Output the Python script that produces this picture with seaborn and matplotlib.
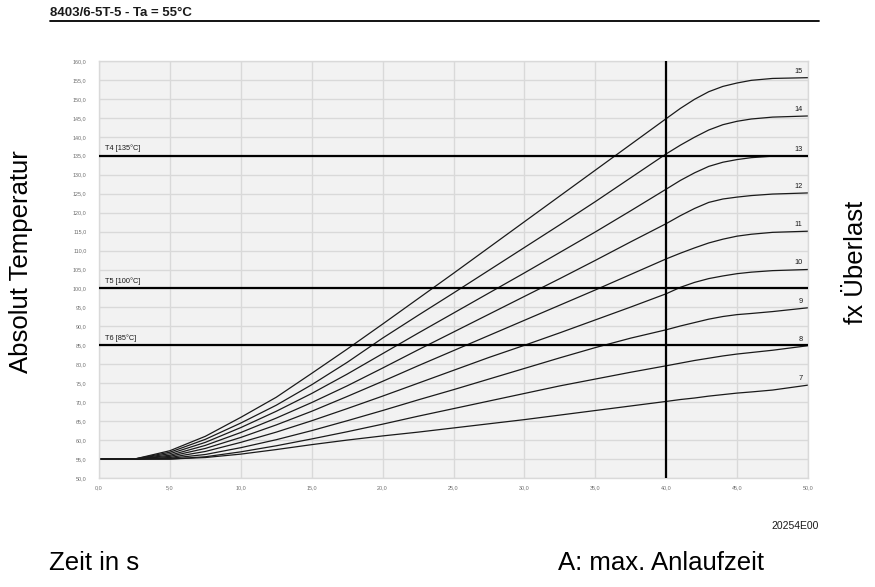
import matplotlib
matplotlib.use("Agg")
import matplotlib.pyplot as plt
import seaborn as sns
import pandas as pd
from matplotlib.lines import Line2D
from matplotlib.ticker import FuncFormatter, MultipleLocator

# ---- data ----
time_s = [0, 2.5, 5, 7.5, 10, 12.5, 15, 17.5, 20, 22.5, 25, 27.5, 30, 32.5, 35, 37.5,
          40, 41, 42, 43, 44, 45, 46, 47.5, 50]

curve_15 = [55, 55, 57.2, 61.0, 66.0, 71.3, 77.6, 84.0, 90.6, 97.3, 104.0, 110.8, 117.6, 124.4, 131.2, 138.0,
            144.8, 147.5, 149.9, 151.9, 153.3, 154.2, 154.9, 155.4, 155.6]
curve_14 = [55, 55, 56.8, 60.2, 64.5, 69.2, 74.6, 80.5, 86.9, 92.9, 98.8, 104.8, 110.8, 116.8, 122.9, 129.2,
            135.5, 137.8, 139.9, 141.8, 143.2, 144.1, 144.7, 145.2, 145.5]
curve_13 = [55, 55, 56.4, 59.4, 63.3, 67.6, 72.3, 77.4, 82.8, 88.2, 93.5, 98.8, 104.1, 109.5, 114.9, 120.5,
            126.2, 128.5, 130.5, 132.2, 133.3, 134.0, 134.5, 134.9, 135.0]
curve_12 = [55, 55, 56.0, 58.6, 62.0, 65.8, 69.9, 74.3, 79.0, 83.8, 88.5, 93.2, 97.9, 102.6, 107.4, 112.3,
            117.1, 119.2, 121.1, 122.7, 123.6, 124.1, 124.5, 124.9, 125.2]
curve_11 = [55, 55, 55.7, 57.8, 60.7, 64.0, 67.6, 71.5, 75.5, 79.6, 83.6, 87.6, 91.6, 95.6, 99.6, 103.7,
            107.8, 109.3, 110.7, 112.0, 113.0, 113.8, 114.3, 114.8, 115.1]
curve_10 = [55, 55, 55.4, 57.0, 59.4, 62.1, 65.1, 68.3, 71.6, 75.0, 78.4, 81.8, 85.0, 88.3, 91.7, 95.1,
            98.6, 100.3, 101.6, 102.6, 103.3, 103.9, 104.3, 104.7, 105.0]
curve_9 = [55, 55, 55.2, 56.2, 58.0, 60.1, 62.5, 65.1, 67.8, 70.6, 73.3, 76.1, 78.9, 81.7, 84.4, 86.9,
           89.1, 90.1, 91.0, 91.9, 92.6, 93.1, 93.4, 93.9, 94.9]
curve_8 = [55, 55, 55.0, 55.6, 56.9, 58.5, 60.3, 62.2, 64.2, 66.3, 68.3, 70.3, 72.3, 74.3, 76.1, 77.9,
           79.6, 80.3, 81.0, 81.6, 82.2, 82.7, 83.1, 83.7, 84.9]
curve_7 = [55, 55, 55.0, 55.4, 56.3, 57.5, 58.8, 60.0, 61.1, 62.1, 63.2, 64.3, 65.4, 66.6, 67.8, 69.0,
           70.2, 70.7, 71.1, 71.6, 72.0, 72.4, 72.7, 73.2, 74.5]

curve_names = ["7", "8", "9", "10", "11", "12", "13", "14", "15"]
curves = [curve_7, curve_8, curve_9, curve_10, curve_11, curve_12, curve_13, curve_14, curve_15]

limit_values = [135, 100, 85]
limit_labels = ["T4 [135°C]", "T5 [100°C]", "T6 [85°C]"]
max_start_time = 40

title_text = "8403/6-5T-5 - Ta = 55°C"
code_text = "20254E00"

# ---- long-form table ----
rows = []
for name, vals in zip(curve_names, curves):
    for t, v in zip(time_s, vals):
        rows.append({"t": t, "T": v, "curve": name})
df = pd.DataFrame(rows)

sns.set_theme(style="white")
plt.rcParams["font.family"] = ["Liberation Sans", "DejaVu Sans"]

fig = plt.figure(figsize=(8.75, 5.87), dpi=100)
ax = fig.add_axes([99 / 875, 1 - 478 / 587, 709 / 875, 417 / 587])
ax.set_facecolor("#f2f2f2")

grid_c = "#d9d9d9"
ax.set_xlim(0, 50)
ax.set_ylim(50, 160)
ax.xaxis.set_major_locator(MultipleLocator(5))
ax.yaxis.set_major_locator(MultipleLocator(5))
ax.grid(True, color=grid_c, linewidth=1.0)
ax.set_axisbelow(True)
for sp in ax.spines.values():
    sp.set_color(grid_c)
    sp.set_linewidth(1.0)

fmt = FuncFormatter(lambda v, p: f"{v:.1f}".replace(".", ","))
ax.xaxis.set_major_formatter(fmt)
ax.yaxis.set_major_formatter(fmt)
ax.tick_params(axis="y", length=0, pad=9, labelsize=3.9, labelcolor="#6e6e6e")
ax.tick_params(axis="x", length=0, pad=5, labelsize=3.9, labelcolor="#6e6e6e")

sns.lineplot(data=df, x="t", y="T", hue="curve", hue_order=curve_names,
             palette=["#1a1a1a"] * len(curve_names), legend=False,
             linewidth=0.9, ax=ax)
ax.set_xlabel("")
ax.set_ylabel("")

for val, lab in zip(limit_values, limit_labels):
    ax.axhline(val, color="black", linewidth=1.6, zorder=5)
    ax.text(0.45, val + 0.9, lab, fontsize=5.3, color="#1a1a1a", ha="left", va="bottom")

ax.axvline(max_start_time, color="black", linewidth=1.6, zorder=5)

for name, vals in zip(curve_names, curves):
    ax.text(49.6, vals[-1] + 0.8, name, fontsize=5.3, color="#1a1a1a", ha="right", va="bottom")

# ---- figure texts ----
fig.text(50 / 875, 1 - 13 / 587, title_text, fontsize=9.5, fontweight="bold",
         ha="left", va="center", color="#1a1a1a")
fig.add_artist(Line2D([50 / 875, 819 / 875], [1 - 20.5 / 587, 1 - 20.5 / 587],
                      color="black", linewidth=1.3, transform=fig.transFigure))

fig.text(21 / 875, 1 - 262 / 587, "Absolut Temperatur", fontsize=18.5, rotation=90,
         ha="center", va="center", color="black")
fig.text(856 / 875, 1 - 262 / 587, "fx Überlast", fontsize=18.5, rotation=90,
         ha="center", va="center", color="black")
fig.text(49 / 875, 1 - 563 / 587, "Zeit in s", fontsize=18.5, ha="left", va="center", color="black")
fig.text(558 / 875, 1 - 563 / 587, "A: max. Anlaufzeit", fontsize=18.5, ha="left", va="center", color="black")
fig.text(819 / 875, 1 - 526 / 587, code_text, fontsize=7.5, ha="right", va="center", color="#1a1a1a")

fig.savefig("out.png", dpi=100)
